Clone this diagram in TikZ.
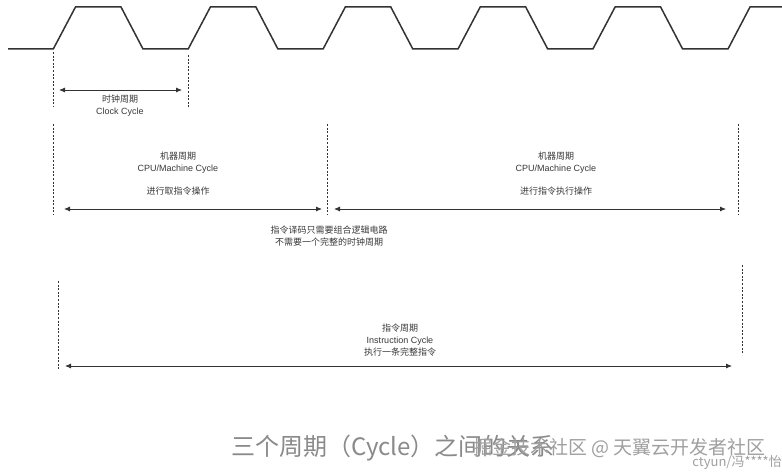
\documentclass[tikz,border=0pt]{standalone}
\usepackage{fontspec}
\setmainfont{Liberation Sans}
\newfontfamily\cjk{Noto Sans CJK SC}
\usetikzlibrary{arrows.meta}
\definecolor{ink}{HTML}{333333}
\definecolor{lab}{HTML}{3A3A3A}
\definecolor{ttl}{HTML}{8A8A8A}
\definecolor{wmk}{HTML}{A0A0A0}
\tikzset{
  wave/.style={draw=ink, line width=1.5pt, line join=miter},
  guide/.style={draw=ink, line width=0.9pt, dash pattern=on 2pt off 1.6pt},
  span/.style={draw=ink, line width=0.8pt, {Latex[length=6pt,width=5pt]}-{Latex[length=6pt,width=5pt]}},
  lbl/.style={text=lab, align=center, inner sep=0pt, font=\fontsize{9}{12}\selectfont},
}
\begin{document}
\begin{tikzpicture}[x=1pt,y=-1pt]
\useasboundingbox (0,0) rectangle (782,473);
\fill[white] (0,0) rectangle (782,473);
% clock waveform
\draw[wave] (8,49) foreach \k in {0,...,4} { -- ({53.3+134.9*\k},49) -- ({75.5+134.9*\k},7) -- ({121+134.9*\k},7) -- ({143+134.9*\k},49) } -- (728,49) -- (750,7) -- (782,7);
% guide coordinates
\coordinate (c1t) at (53,52);  \coordinate (c1b) at (53,107);
\coordinate (c2t) at (188,55); \coordinate (c2b) at (188,107);
\coordinate (m1t) at (53,124); \coordinate (m1b) at (53,215);
\coordinate (m2t) at (327,124); \coordinate (m2b) at (327,215);
\coordinate (m3t) at (738,124); \coordinate (m3b) at (738,215);
\coordinate (i1t) at (58,281); \coordinate (i1b) at (58,370);
\coordinate (i2t) at (742,265); \coordinate (i2b) at (742,355);
\draw[guide] (c1t) -- (c1b);
\draw[guide] (c2t) -- (c2b);
\draw[guide] (m1t) -- (m1b);
\draw[guide] (m2t) -- (m2b);
\draw[guide] (m3t) -- (m3b);
\draw[guide] (i1t) -- (i1b);
\draw[guide] (i2t) -- (i2b);
% arrow end points
\coordinate (a1l) at (59,90);  \coordinate (a1r) at (182,90);
\coordinate (a2l) at (64,209); \coordinate (a2r) at (322,209);
\coordinate (a3l) at (334,209); \coordinate (a3r) at (726,209);
\coordinate (a4l) at (65,366); \coordinate (a4r) at (732,366);
\draw[span] (a1l) -- (a1r);
\draw[span] (a2l) -- (a2r);
\draw[span] (a3l) -- (a3r);
\draw[span] (a4l) -- (a4r);
% labels
\node[lbl] (clk) at (120,106) {{\cjk 时钟周期}\\Clock Cycle};
\node[lbl] (mc1) at (178,163) {{\cjk 机器周期}\\CPU/Machine Cycle};
\node[lbl] (op1) at (178,191) {\cjk 进行取指令操作};
\node[lbl] (mc2) at (556,163) {{\cjk 机器周期}\\CPU/Machine Cycle};
\node[lbl] (op2) at (556,191) {\cjk 进行指令执行操作};
\node[lbl] (dec) at (329,236) {{\cjk 指令译码只需要组合逻辑电路}\\{\cjk 不需要一个完整的时钟周期}};
\node[lbl] (ins) at (400,340) {{\cjk 指令周期}\\Instruction Cycle\\{\cjk 执行一条完整指令}};
% title and watermark
\node[anchor=west, inner sep=0pt, text=ttl, font=\cjk\fontsize{24}{24}\selectfont] (title) at (231,448) {三个周期（Cycle）之间的关系};
\node[anchor=east, inner sep=0pt, text=wmk, font=\cjk\fontsize{19}{19}\selectfont] (wm) at (766,448) {掘金技术社区 @ 天翼云开发者社区};
\node[anchor=east, inner sep=0pt, text=wmk, font=\cjk\fontsize{13}{13}\selectfont] (wm2) at (782,463) {ctyun/冯****怡};
\end{tikzpicture}
\end{document}
